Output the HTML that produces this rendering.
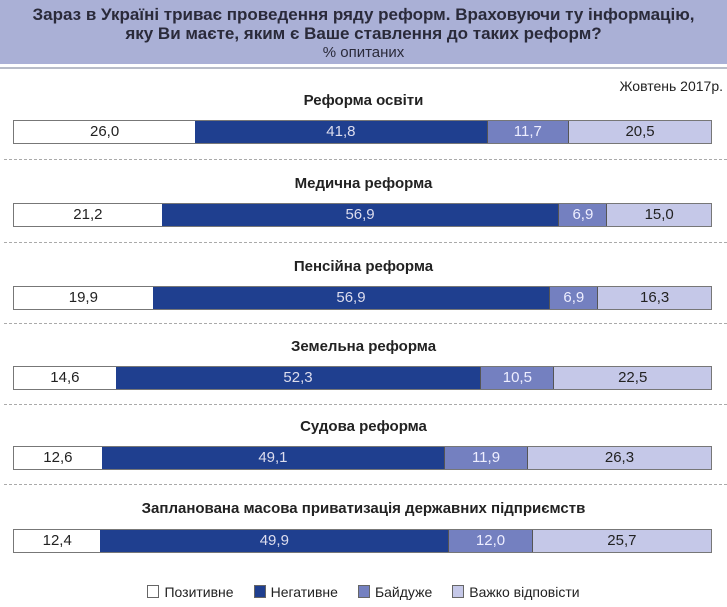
<!DOCTYPE html>
<html><head><meta charset="utf-8"><style>
body{margin:0;width:727px;height:607px;background:#fff;position:relative;overflow:hidden;font-family:"Liberation Sans Narrow","Liberation Sans",sans-serif;color:#222}
.hdr{position:absolute;left:0;top:0;width:727px;height:64px;background:#aab0d6;text-align:center;font-weight:bold;font-size:17px;line-height:19px;color:#2a2a3a}
.hdr .s{font-weight:normal;font-size:15px}
.rule{position:absolute;left:0;top:67px;width:727px;height:2px;background:#b8bcc8}
.date{position:absolute;right:4px;top:78px;font-size:14px}
.t{position:absolute;left:0;width:727px;text-align:center;font-weight:bold;font-size:15px}
.bar{position:absolute;left:13px;width:699px;height:24px;display:flex;border:1px solid #777;box-sizing:border-box}
.bar div{height:100%;text-align:center;font-size:15px;line-height:22px;box-sizing:border-box}
.p{background:#fff;color:#222}.n{background:#1f3f8f;color:#dde}.b{background:#7480c0;color:#eef;border-left:1px solid #555}.h{background:#c5c8e8;color:#222;border-left:1px solid #555}
.d{position:absolute;left:4px;width:723px;border-top:1px dashed #aaa}
.leg{position:absolute;top:584px;left:0;width:727px;text-align:center;font-size:14px}
.leg span{display:inline-block;margin:0 10px}
.leg i{display:inline-block;width:10px;height:11px;border:1px solid #666;vertical-align:-1px;margin-right:5px}
</style></head><body>
<div class="hdr"><div style="padding-top:5px">Зараз в Україні триває проведення ряду реформ. Враховуючи ту інформацію,<br>яку Ви маєте, яким є Ваше ставлення до таких реформ?</div><div class="s">% опитаних</div></div>
<div class="rule"></div>
<div class="date">Жовтень 2017р.</div>

<div class="t" style="top:92px">Реформа освіти</div>
<div class="bar" style="top:120px"><div class="p" style="width:26%">26,0</div><div class="n" style="width:41.8%">41,8</div><div class="b" style="width:11.7%">11,7</div><div class="h" style="width:20.5%">20,5</div></div>
<div class="d" style="top:159px"></div>

<div class="t" style="top:175px">Медична реформа</div>
<div class="bar" style="top:203px"><div class="p" style="width:21.2%">21,2</div><div class="n" style="width:56.9%">56,9</div><div class="b" style="width:6.9%">6,9</div><div class="h" style="width:15%">15,0</div></div>
<div class="d" style="top:242px"></div>

<div class="t" style="top:258px">Пенсійна реформа</div>
<div class="bar" style="top:286px"><div class="p" style="width:19.9%">19,9</div><div class="n" style="width:56.9%">56,9</div><div class="b" style="width:6.9%">6,9</div><div class="h" style="width:16.3%">16,3</div></div>
<div class="d" style="top:323px"></div>

<div class="t" style="top:338px">Земельна реформа</div>
<div class="bar" style="top:366px"><div class="p" style="width:14.6%">14,6</div><div class="n" style="width:52.3%">52,3</div><div class="b" style="width:10.5%">10,5</div><div class="h" style="width:22.6%">22,5</div></div>
<div class="d" style="top:404px"></div>

<div class="t" style="top:418px">Судова реформа</div>
<div class="bar" style="top:446px"><div class="p" style="width:12.6%">12,6</div><div class="n" style="width:49.1%">49,1</div><div class="b" style="width:11.9%">11,9</div><div class="h" style="width:26.4%">26,3</div></div>
<div class="d" style="top:484px"></div>

<div class="t" style="top:500px">Запланована масова приватизація державних підприємств</div>
<div class="bar" style="top:529px"><div class="p" style="width:12.4%">12,4</div><div class="n" style="width:49.9%">49,9</div><div class="b" style="width:12%">12,0</div><div class="h" style="width:25.7%">25,7</div></div>

<div class="leg"><span><i style="background:#fff"></i>Позитивне</span><span><i style="background:#1f3f8f"></i>Негативне</span><span><i style="background:#7480c0"></i>Байдуже</span><span><i style="background:#c5c8e8"></i>Важко відповісти</span></div>
</body></html>
